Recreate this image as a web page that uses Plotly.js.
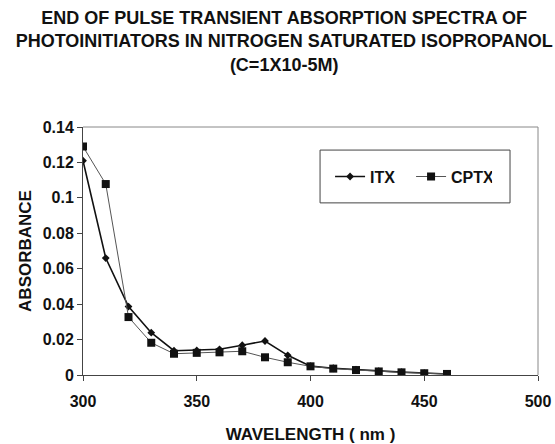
<!DOCTYPE html>
<html>
<head>
<meta charset="utf-8">
<script src="https://cdn.plot.ly/plotly-3.0.1.min.js"></script>
<style>html,body{margin:0;padding:0;background:#fff;}#chart{width:555px;height:444px;}</style>
</head>
<body>
<div id="chart"></div>
<script>
const wavelength = [300, 310, 320, 330, 340, 350, 360, 370, 380, 390, 400, 410, 420, 430, 440, 450, 460];
const itx  = [0.121, 0.066, 0.0386, 0.0239, 0.0137, 0.0139, 0.0145, 0.0168, 0.0192, 0.0111, 0.005, 0.0038, 0.003, 0.0022, 0.0016, 0.0011, 0.0006];
const cptx = [0.129, 0.1078, 0.0327, 0.0182, 0.012, 0.0125, 0.0128, 0.0134, 0.010, 0.0072, 0.0049, 0.0036, 0.0028, 0.002, 0.0015, 0.001, 0.0006];
const seriesNames = ['ITX', 'CPTX'];

const font = 'Liberation Sans, Arial, sans-serif';
const traces = [
  {x: wavelength, y: itx, name: seriesNames[0], type: 'scatter', mode: 'lines+markers',
   line: {color: '#111', width: 1.6}, marker: {symbol: 'diamond', size: 6, color: '#111'}},
  {x: wavelength, y: cptx, name: seriesNames[1], type: 'scatter', mode: 'lines+markers',
   line: {color: '#555', width: 1}, marker: {symbol: 'square', size: 8, color: '#111'}}
];
const layout = {
  width: 555, height: 444,
  margin: {l: 83, r: 17, t: 127, b: 69, autoexpand: false},
  paper_bgcolor: '#fff', plot_bgcolor: '#fff',
  font: {family: font, color: '#111', size: 16},
  title: {text: '<b>END OF PULSE TRANSIENT ABSORPTION SPECTRA OF<br>PHOTOINITIATORS IN NITROGEN SATURATED ISOPROPANOL<br>(C=1X10-5M)</b>',
          font: {family: font, size: 18, color: '#111'}, x: 0.512, xref: 'container', xanchor: 'center',
          y: 0.946, yref: 'container', yanchor: 'top'},
  xaxis: {range: [300, 500], dtick: 50, tick0: 300, showgrid: false, zeroline: false,
          showline: true, linecolor: '#444', linewidth: 1, ticks: 'outside', ticklen: 5, tickcolor: '#444',
          ticklabelstandoff: 7,
          tickfont: {family: font, size: 16, color: '#111', weight: 'bold'},
          title: {text: '<b>WAVELENGTH ( nm )</b>', font: {family: font, size: 17, color: '#111'}, standoff: 19}},
  yaxis: {range: [0, 0.14], dtick: 0.02, showgrid: false, zeroline: false,
          showline: true, linecolor: '#444', linewidth: 1, ticks: 'outside', ticklen: 5, tickcolor: '#444',
          tickfont: {family: font, size: 16, color: '#111', weight: 'bold'},
          title: {text: '<b>ABSORBANCE</b>', font: {family: font, size: 17, color: '#111'}, standoff: 6}},
  shapes: [
    {type: 'line', xref: 'paper', yref: 'paper', x0: 0, x1: 1, y0: 1, y1: 1, line: {color: '#888', width: 1}},
    {type: 'line', xref: 'paper', yref: 'paper', x0: 1, x1: 1, y0: 0, y1: 1, line: {color: '#888', width: 1}},
    {type: 'rect', xref: 'paper', yref: 'paper', x0: 0.521, x1: 0.9385, y0: 0.694, y1: 0.907,
     line: {color: '#444', width: 1}, fillcolor: 'rgba(0,0,0,0)'}
  ],
  legend: {orientation: 'h', x: 0.543, y: 0.80, xanchor: 'left', yanchor: 'middle',
           borderwidth: 0, bgcolor: 'rgba(0,0,0,0)',
           font: {family: font, size: 16, color: '#111', weight: 'bold'},
           entrywidth: 36, itemwidth: 30},
  showlegend: true
};
Plotly.newPlot('chart', traces, layout, {displayModeBar: false, staticPlot: true});
</script>
</body>
</html>
